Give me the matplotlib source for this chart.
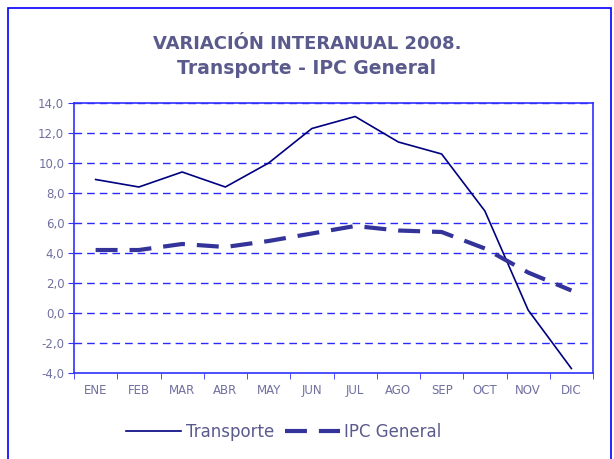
import matplotlib
matplotlib.use("Agg")
import matplotlib.pyplot as plt
from matplotlib.patches import Rectangle
from matplotlib.ticker import FuncFormatter

plt.rcParams["lines.scale_dashes"] = False

months = ["ENE", "FEB", "MAR", "ABR", "MAY", "JUN", "JUL", "AGO", "SEP", "OCT", "NOV", "DIC"]
transporte = [8.9, 8.4, 9.4, 8.4, 10.0, 12.3, 13.1, 11.4, 10.6, 6.8, 0.2, -3.7]
ipc_general = [4.2, 4.2, 4.6, 4.4, 4.8, 5.3, 5.8, 5.5, 5.4, 4.3, 2.7, 1.5]
yticks = [-4, -2, 0, 2, 4, 6, 8, 10, 12, 14]

W, H = 614, 459
fig = plt.figure(figsize=(W / 100, H / 100), dpi=100)
fig.patch.set_facecolor("white")

# outer border
fig.patches.append(Rectangle((8 / W, 1 - 460 / H), (611 - 8) / W, (460 - 8) / H,
                             transform=fig.transFigure, fill=False,
                             edgecolor="#0000ff", linewidth=1.2))

ax = fig.add_axes([74 / W, 1 - 373 / H, (593 - 74) / W, (373 - 103) / H])
x = list(range(len(months)))
ax.plot(x, transporte, color="#000080", linewidth=1.2, label="Transporte")
ax.plot(x, ipc_general, color="#333399", linewidth=3.0, dashes=(15.8, 8.6),
        label="IPC General")

ax.set_xlim(-0.5, len(months) - 0.5)
ax.set_ylim(-4, 14)
ax.set_yticks(yticks)
ax.yaxis.set_major_formatter(FuncFormatter(lambda v, p: f"{v:.1f}".replace(".", ",")))
ax.set_xticks(x)
ax.set_xticklabels(months)
ax.set_xticks([i + 0.5 for i in range(-1, len(months))], minor=True)

for yv in yticks[1:]:
    ax.axhline(yv, color="#2a2aff", linewidth=1.0, dashes=(5.5, 3.6), zorder=0)

for s in ax.spines.values():
    s.set_color("#3030ff")
    s.set_linewidth(1.2)

lab_col = "#7070a0"
ax.tick_params(axis="x", which="major", length=0, pad=8, labelsize=8.5, labelcolor=lab_col)
ax.tick_params(axis="x", which="minor", length=4, color="#3030ff", direction="out")
ax.tick_params(axis="y", length=4, color="#3030ff", direction="out", labelsize=8.5,
               labelcolor=lab_col, pad=3)

fig.text(0.5, 1 - 44 / H, "VARIACIÓN INTERANUAL 2008.", ha="center", va="center",
         fontsize=13, fontweight="bold", color="#5a5a8c")
fig.text(0.5, 1 - 68 / H, "Transporte - IPC General", ha="center", va="center",
         fontsize=13.5, fontweight="bold", color="#5a5a8c")

leg = fig.legend(loc="center", bbox_to_anchor=(284 / W, 1 - 432 / H), ncol=2,
                 frameon=False, fontsize=12, handlelength=3.3, handletextpad=0.3,
                 columnspacing=0.6, labelcolor="#5a5a8c")

fig.savefig("out.png", dpi=100, facecolor="white")
